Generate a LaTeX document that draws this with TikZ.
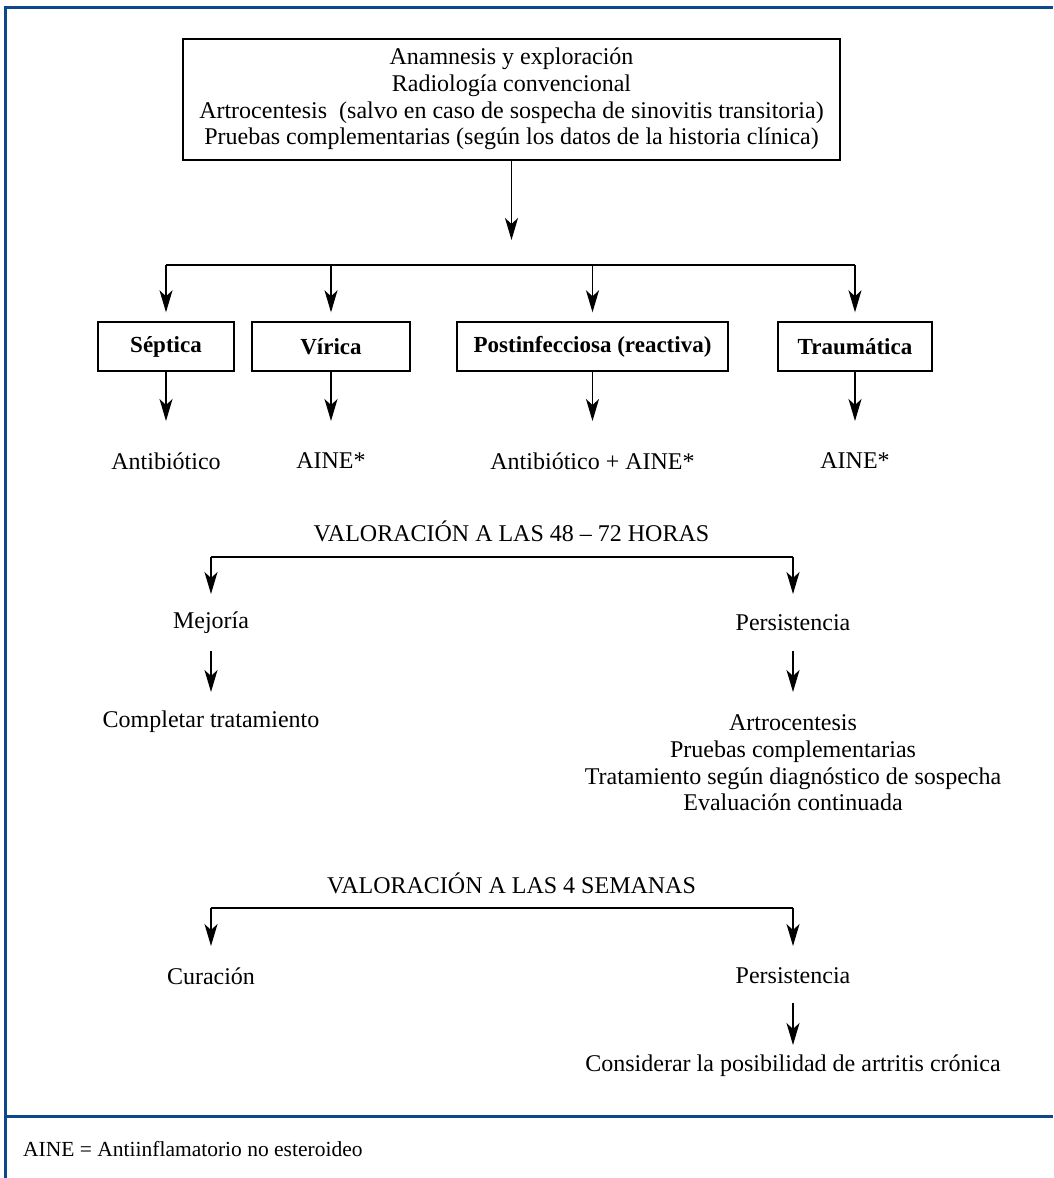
\documentclass[tikz,border=0pt]{standalone}
\usepackage{fontspec}
\setmainfont{Liberation Serif}
\usetikzlibrary{arrows.meta}
\definecolor{frameblue}{RGB}{14,72,140}
\begin{document}
\begin{tikzpicture}[x=1pt,y=-1pt,
  every node/.style={font=\fontsize{24}{26.7}\selectfont, inner sep=0pt},
  arr/.style={line width=1.4pt, -{Stealth[length=22pt,width=13pt,inset=6pt]}},
  bar/.style={line width=2.3pt},
  catbox/.style={draw, line width=1.4pt, minimum height=49pt, font=\fontsize{23}{26}\selectfont\bfseries},
  lbl/.style={align=center}]
\useasboundingbox (0,0) rectangle (1053,1178);
% frame
\draw[frameblue, line width=2.4pt] (5.5,1178) -- (5.5,7.5) -- (1053,7.5);
\draw[frameblue, line width=2.4pt] (5.5,1116.5) -- (1053,1116.5);

% top box
\node[draw, line width=1.4pt, minimum width=657pt, minimum height=121pt, align=center, text depth=6pt] (top) at (511.5,99.5)
 {Anamnesis y exploración\\Radiología convencional\\Artrocentesis\ \ (salvo en caso de sospecha de sinovitis transitoria)\\Pruebas complementarias (según los datos de la historia clínica)};
\coordinate (topend) at (511.5,240);
\draw[arr] (top.south) -- (topend);

% branch bar
\coordinate (b1) at (166,265);
\coordinate (b2) at (331,265);
\coordinate (b3) at (592.5,265);
\coordinate (b4) at (855,265);
\draw[bar] (b1) -- (b4);

\node[catbox, minimum width=136pt] (sep) at (166,346.5) {Séptica};
\node[catbox, minimum width=158pt] (vir) at (331,346.5) {Vírica};
\node[catbox, minimum width=271pt] (post) at (592.5,346.5) {Postinfecciosa (reactiva)};
\node[catbox, minimum width=154pt] (trau) at (855,346.5) {Traumática};

\foreach \b/\n in {b1/sep,b2/vir,b3/post,b4/trau}
  \draw[arr, shorten >=9pt] (\b) -- (\n.north);

\node (t1) at (166,461) {Antibiótico};
\node (t2) at (331,461) {AINE*};
\node (t3) at (592.5,461) {Antibiótico + AINE*};
\node (t4) at (855,461) {AINE*};
\coordinate (e1) at (166,421);
\coordinate (e2) at (331,421);
\coordinate (e3) at (592.5,421);
\coordinate (e4) at (855,421);
\foreach \n/\m in {sep/e1,vir/e2,post/e3,trau/e4}
  \draw[arr] (\n.south) -- (\m);

% 48-72 hours
\node (v1) at (511.5,531) {VALORACIÓN A LAS 48 – 72 HORAS};
\coordinate (c1) at (211,557);
\coordinate (c2) at (793,557);
\draw[bar] (c1) -- (c2);
\coordinate (c1e) at (211,594);
\coordinate (c2e) at (793,594);
\draw[arr] (c1) -- (c1e);
\draw[arr] (c2) -- (c2e);
\node (mej) at (211,623) {Mejoría};
\node (per1) at (793,623) {Persistencia};

\coordinate (mejs) at (211,651);
\coordinate (pers) at (793,651);
\coordinate (mejend) at (211,692);
\coordinate (perend) at (793,692);
\draw[arr] (mejs) -- (mejend);
\draw[arr] (pers) -- (perend);
\node (comp) at (211,722) {Completar tratamiento};
\node[lbl] (art) at (793,763) {Artrocentesis\\Pruebas complementarias\\Tratamiento según diagnóstico de sospecha\\Evaluación continuada};

% 4 weeks
\node (v2) at (511.5,883) {VALORACIÓN A LAS 4 SEMANAS};
\coordinate (d1) at (211,908);
\coordinate (d2) at (793,908);
\draw[bar] (d1) -- (d2);
\coordinate (d1e) at (211,946);
\coordinate (d2e) at (793,946);
\draw[arr] (d1) -- (d1e);
\draw[arr] (d2) -- (d2e);
\node (cur) at (211,976) {Curación};
\node (per2) at (793,976) {Persistencia};
\coordinate (per2s) at (793,1003);
\coordinate (consend) at (793,1045);
\draw[arr] (per2s) -- (consend);
\node (cons) at (793,1066) {Considerar la posibilidad de artritis crónica};

% footer
\node[anchor=west, font=\fontsize{21.5}{24}\selectfont] (foot) at (23,1149) {AINE = Antiinflamatorio no esteroideo};
\end{tikzpicture}
\end{document}
